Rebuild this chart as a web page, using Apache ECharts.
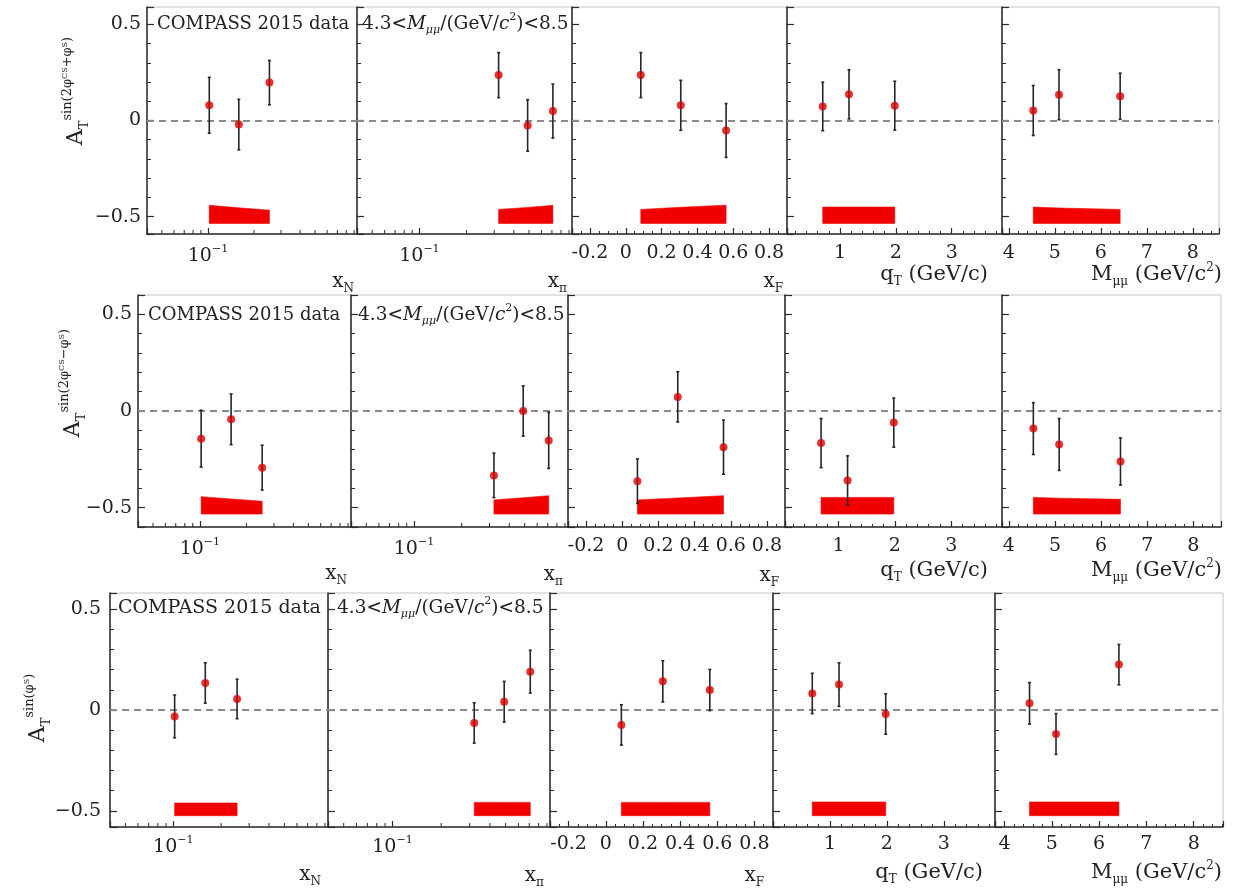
<!DOCTYPE html>
<html>
<head>
<meta charset="utf-8">
<script src="https://cdn.jsdelivr.net/npm/echarts@6/dist/echarts.min.js"></script>
<style>
html,body{margin:0;padding:0;background:#fff;}
#chart{width:1233px;height:889px;}
</style>
</head>
<body>
<div id="chart"></div>
<script>
// ---------------- DATA ----------------
// bin mean positions (same bins in every row)
const xN    = [0.102, 0.159, 0.252];
const xPi   = [0.32, 0.49, 0.71];
const xF    = [0.084, 0.307, 0.56];
const qT    = [0.69, 1.16, 1.98];
const mMuMu = [4.53, 5.09, 6.42];

// panels in order: x_N, x_pi, x_F, q_T, M_mumu
// row 1 : A_T^{sin(2phi_CS + phi_S)}
const r1Val = [[0.079, -0.021, 0.197], [0.236, -0.026, 0.049], [0.236, 0.079, -0.052], [0.073, 0.136, 0.077], [0.052, 0.134, 0.126]];
const r1Err = [[0.145, 0.131, 0.115], [0.117, 0.134, 0.140], [0.117, 0.130, 0.140], [0.126, 0.128, 0.127], [0.130, 0.130, 0.120]];
const r1Sys = [[0.094, 0.081, 0.069], [0.073, 0.083, 0.094], [0.073, 0.084, 0.095], [0.085, 0.085, 0.085], [0.085, 0.080, 0.073]];
// row 2 : A_T^{sin(2phi_CS - phi_S)}
const r2Val = [[-0.143, -0.043, -0.293], [-0.333, 0.000, -0.152], [-0.363, 0.073, -0.187], [-0.166, -0.359, -0.060], [-0.091, -0.173, -0.261]];
const r2Err = [[0.147, 0.131, 0.116], [0.115, 0.130, 0.145], [0.115, 0.130, 0.140], [0.127, 0.127, 0.127], [0.134, 0.134, 0.122]];
const r2Sys = [[0.090, 0.078, 0.066], [0.073, 0.084, 0.095], [0.073, 0.083, 0.095], [0.086, 0.086, 0.086], [0.086, 0.082, 0.076]];
// row 3 : A_T^{sin(phi_S)}
const r3Val = [[-0.032, 0.134, 0.055], [-0.064, 0.041, 0.190], [-0.074, 0.142, 0.099], [0.082, 0.126, -0.020], [0.033, -0.119, 0.225]];
const r3Err = [[0.106, 0.100, 0.098], [0.100, 0.101, 0.106], [0.100, 0.102, 0.102], [0.100, 0.108, 0.100], [0.103, 0.101, 0.100]];
const r3Sys = [[0.063, 0.063, 0.063], [0.066, 0.066, 0.066], [0.066, 0.066, 0.066], [0.068, 0.068, 0.068], [0.068, 0.068, 0.068]];
// lower edge of the systematic bands, per row
const bandBase = [-0.535, -0.533, -0.524];

// tick labels
const yTickValues   = [-0.5, 0, 0.5];
const yTickLabels   = ['\u22120.5', '0', '0.5'];
const xFTickValues  = [-0.2, 0, 0.2, 0.4, 0.6, 0.8];
const xFTickLabels  = ['-0.2', '0', '0.2', '0.4', '0.6', '0.8'];
const qTTickValues  = [1, 2, 3];
const mTickValues   = [4, 5, 6, 7, 8];
const logTickValue  = 0.1;
const logMinorTicks = [0.05, 0.06, 0.07, 0.08, 0.09, 0.2, 0.3, 0.4, 0.5, 0.6, 0.7, 0.8, 0.9];

// ---------------- LAYOUT / STYLE ----------------
const FONT = 'DejaVu Serif';
const INK = '#222';
const AXIS = '#2b2b2b';
const BAND = '#f20000';
const DOT = '#d80000';

const rowTop = [7, 295, 593];
const rowBottom = [234, 527, 827];
const rowEdges = [
  [147, 357, 572, 787, 1002, 1219],
  [138, 351, 568, 785, 1002, 1221],
  [110, 328, 550, 773, 995, 1223]
];
const rowYRange = [[-0.59, 0.59], [-0.6, 0.6], [-0.58, 0.58]];
const rowXRange = [
  [[0.04, 0.94], [0.04, 0.94], [-0.3, 0.9], [0.05, 3.9], [3.85, 8.57]],
  [[0.04, 0.94], [0.04, 0.94], [-0.3, 0.9], [0.05, 3.9], [3.85, 8.6]],
  [[0.04, 0.94], [0.04, 0.94], [-0.3, 0.9], [0.0, 3.9], [3.8, 8.62]]
];
const kinds = ['log', 'log', 'xF', 'qT', 'M'];
const xData = [xN, xPi, xF, qT, mMuMu];
const rowVal = [r1Val, r2Val, r3Val];
const rowErr = [r1Err, r2Err, r3Err];
const rowSys = [r1Sys, r2Sys, r3Sys];

function near(a, b) { return Math.abs(a - b) < 1e-6; }
function pick(values, labels) {
  return function (v) {
    for (let i = 0; i < values.length; i++) if (near(v, values[i])) return labels ? labels[i] : String(values[i]);
    return '';
  };
}

const grids = [], xAxes = [], yAxes = [], series = [];

for (let r = 0; r < 3; r++) {
  const edges = rowEdges[r];
  const yr = rowYRange[r];
  for (let p = 0; p < 5; p++) {
    const k = r * 5 + p;
    const kind = kinds[p];
    const xr = rowXRange[r][p];
    const xs = xData[p];
    const vals = rowVal[r][p], errs = rowErr[r][p], sys = rowSys[r][p];
    const base = bandBase[r];

    grids.push({
      left: edges[p], top: rowTop[r],
      width: edges[p + 1] - edges[p], height: rowBottom[r] - rowTop[r],
      show: true, borderColor: '#c4c4c4', borderWidth: 1, backgroundColor: 'transparent'
    });

    let formatter, rich, interval = null, minorSplit = 5;
    if (kind === 'log') {
      formatter = function (v) { return near(v, logTickValue) ? '{b|10}{s|\u22121}' : ''; };
      rich = {
        b: { fontFamily: FONT, fontSize: 19, lineHeight: 24, color: INK },
        s: { fontFamily: FONT, fontSize: 11, lineHeight: 11, verticalAlign: 'top', color: INK }
      };
    } else if (kind === 'xF') {
      formatter = pick(xFTickValues, xFTickLabels); interval = 0.2; minorSplit = 4;
    } else if (kind === 'qT') {
      formatter = pick(qTTickValues); interval = 1;
    } else {
      formatter = pick(mTickValues); interval = 1;
    }

    const xAxis = {
      type: kind === 'log' ? 'log' : 'value',
      logBase: 10,
      gridIndex: k, position: 'bottom',
      min: xr[0], max: xr[1],
      axisLine: { show: true, onZero: false, lineStyle: { color: AXIS, width: 1.5 } },
      axisTick: { show: true, inside: true, length: 6, lineStyle: { color: AXIS, width: 1.2 } },
      minorTick: { show: kind !== 'log', splitNumber: minorSplit, length: 3, lineStyle: { color: AXIS, width: 1 } },
      splitLine: { show: false }, minorSplitLine: { show: false },
      axisLabel: {
        show: true, margin: r === 2 ? 8 : 10, color: INK, fontFamily: FONT, fontSize: 19,
        formatter: formatter, rich: rich
      }
    };
    if (interval !== null) { xAxis.minInterval = interval; xAxis.maxInterval = interval; }
    xAxes.push(xAxis);

    yAxes.push({
      type: 'value', gridIndex: k, position: 'left',
      min: yr[0], max: yr[1], minInterval: 0.5, maxInterval: 0.5,
      axisLine: { show: true, onZero: false, lineStyle: { color: AXIS, width: 1.5 } },
      axisTick: { show: true, inside: true, length: 7, lineStyle: { color: AXIS, width: 1.2 } },
      minorTick: { show: true, splitNumber: 5, length: 4, lineStyle: { color: AXIS, width: 1 } },
      splitLine: { show: false }, minorSplitLine: { show: false },
      axisLabel: {
        show: p === 0, margin: r === 2 ? 9 : 6, color: INK, fontFamily: FONT, fontSize: 19,
        formatter: pick(yTickValues, yTickLabels)
      }
    });

    // systematic band: one polygon per panel (x0..x2, top0..top2, base)
    const n = xs.length;
    series.push({
      type: 'custom', xAxisIndex: k, yAxisIndex: k, silent: true, z: 2, clip: false,
      data: [xs.concat(sys.map(function (s) { return base + s; })).concat([base])],
      renderItem: function (params, api) {
        const pts = [];
        const b = api.value(2 * n);
        for (let i = 0; i < n; i++) pts.push(api.coord([api.value(i), api.value(n + i)]));
        for (let i = n - 1; i >= 0; i--) pts.push(api.coord([api.value(i), b]));
        return { type: 'polygon', shape: { points: pts }, style: { fill: BAND, stroke: BAND, lineWidth: 0.6 } };
      }
    });

    // statistical error bars
    series.push({
      type: 'custom', xAxisIndex: k, yAxisIndex: k, silent: true, z: 3, clip: false,
      data: xs.map(function (x, i) { return [x, vals[i], errs[i]]; }),
      renderItem: function (params, api) {
        const x = api.value(0), y = api.value(1), e = api.value(2);
        const t = api.coord([x, y + e]), b = api.coord([x, y - e]);
        const st = { stroke: '#262626', lineWidth: 1.6 };
        return {
          type: 'group', children: [
            { type: 'line', shape: { x1: t[0], y1: t[1], x2: b[0], y2: b[1] }, style: st },
            { type: 'line', shape: { x1: t[0] - 1.5, y1: t[1], x2: t[0] + 1.5, y2: t[1] }, style: st },
            { type: 'line', shape: { x1: b[0] - 1.5, y1: b[1], x2: b[0] + 1.5, y2: b[1] }, style: st }
          ]
        };
      }
    });

    // points + dashed zero line
    series.push({
      type: 'scatter', xAxisIndex: k, yAxisIndex: k, z: 4, symbol: 'circle', symbolSize: 8,
      itemStyle: { color: DOT },
      data: xs.map(function (x, i) { return [x, vals[i]]; }),
      markLine: {
        silent: true, symbol: 'none', z: 1, label: { show: false },
        lineStyle: { color: '#8a8a8a', type: [7, 5], width: 2 },
        data: [{ yAxis: 0 }]
      }
    });

    // minor ticks of the logarithmic axes
    if (kind === 'log') {
      series.push({
        type: 'custom', xAxisIndex: k, yAxisIndex: k, silent: true, z: 5, clip: false,
        data: logMinorTicks.filter(function (v) { return v > xr[0] && v < xr[1]; }).map(function (v) { return [v, yr[0]]; }),
        renderItem: function (params, api) {
          const q = api.coord([api.value(0), api.value(1)]);
          return { type: 'line', shape: { x1: q[0], y1: q[1], x2: q[0], y2: q[1] - 4 }, style: { stroke: AXIS, lineWidth: 1 } };
        }
      });
    }
  }
}

// ---------------- TEXTS ----------------
function R(size, extra) {
  return Object.assign({ fontFamily: FONT, fontSize: size, lineHeight: size, fill: INK }, extra || {});
}
const graphic = [];

const compassPos = [[157, 24], [148, 315], [118, 608]];
const rangePos = [[362, 24], [358, 315], [337, 608]];
for (let r = 0; r < 3; r++) {
  graphic.push({
    type: 'text', x: compassPos[r][0], y: compassPos[r][1], z: 100,
    style: { text: 'COMPASS 2015 data', fontFamily: FONT, fontSize: r === 2 ? 19 : 18, fill: INK, align: 'left', verticalAlign: 'middle' }
  });
  graphic.push({
    type: 'text', x: rangePos[r][0], y: rangePos[r][1], z: 100,
    style: {
      text: '{n|4.3<}{i|M}{sub|\u03bc\u03bc}{n|/(GeV/}{i|c}{sup|2}{n|)<8.5}',
      align: 'left', verticalAlign: 'middle',
      rich: {
        n: R(18.5, { lineHeight: 24 }),
        i: R(18.5, { lineHeight: 24, fontStyle: 'italic' }),
        sub: R(11, { verticalAlign: 'bottom', fontStyle: 'italic' }),
        sup: R(11, { verticalAlign: 'top' })
      }
    }
  });
}

// y-axis titles (rotated)
const yTitles = [
  '{a|A}{t|T}{s|sin(2\u03c6}{ss|CS}{s|+\u03c6}{ss|S}{s|)}',
  '{a|A}{t|T}{s|sin(2\u03c6}{ss|CS}{s|\u2212\u03c6}{ss|S}{s|)}',
  '{a|A}{t|T}{s|sin(\u03c6}{ss|S}{s|)}'
];
const yTitlePos = [[76, 91], [73, 383], [38, 708]];
for (let r = 0; r < 3; r++) {
  graphic.push({
    type: 'text', x: yTitlePos[r][0], y: yTitlePos[r][1], rotation: Math.PI / 2, z: 100,
    style: {
      text: yTitles[r], align: 'center', verticalAlign: 'middle',
      rich: {
        a: R(22, { lineHeight: 30 }),
        t: R(13, { lineHeight: 14, verticalAlign: 'bottom' }),
        s: R(13, { lineHeight: 10, verticalAlign: 'top' }),
        ss: R(8, { lineHeight: 25, verticalAlign: 'top' })
      }
    }
  });
}

// x-axis titles
const xNames = [
  '{b|x}{sub|N}',
  '{b|x}{sub|\u03c0}',
  '{b|x}{sub|F}',
  '{B|q}{SUB|T}{B| (GeV/c)}',
  '{B|M}{SUB|\u03bc\u03bc}{B| (GeV/c}{SUP|2}{B|)}'
];
const xNamePos = [
  [[354, 282], [567, 282], [783, 282], [988, 275], [1222, 275]],
  [[347, 574], [563, 575], [779, 576], [988, 571], [1222, 571]],
  [[321, 875], [544, 876], [764, 876], [983, 873], [1222, 873]]
];
for (let r = 0; r < 3; r++) {
  for (let p = 0; p < 5; p++) {
    graphic.push({
      type: 'text', x: xNamePos[r][p][0], y: xNamePos[r][p][1], z: 100,
      style: {
        text: xNames[p], align: 'right', verticalAlign: 'middle',
        rich: {
          b: R(20, { lineHeight: 26 }),
          sub: R(12, { verticalAlign: 'bottom' }),
          B: R(21, { lineHeight: 26 }),
          SUB: R(12, { verticalAlign: 'bottom' }),
          SUP: R(12, { verticalAlign: 'top' })
        }
      }
    });
  }
}

const chart = echarts.init(document.getElementById('chart'), null, { renderer: 'canvas' });
chart.setOption({
  animation: false,
  backgroundColor: '#fff',
  grid: grids,
  xAxis: xAxes,
  yAxis: yAxes,
  series: series,
  graphic: graphic
});
</script>
</body>
</html>
